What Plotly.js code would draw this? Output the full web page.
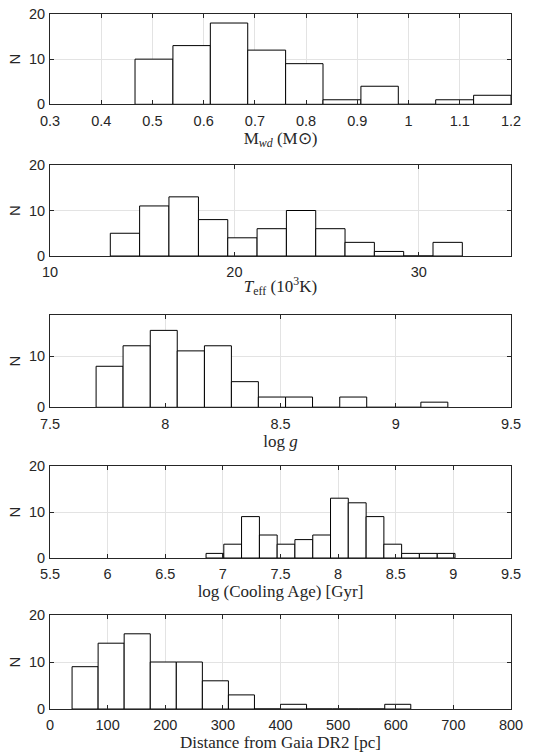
<!DOCTYPE html>
<html>
<head>
<meta charset="utf-8">
<script src="https://cdn.plot.ly/plotly-3.0.1.min.js"></script>
<style>html,body{margin:0;padding:0;background:#fff;}#chart{width:544px;height:754px;}</style>
</head>
<body>
<div id="chart"></div>
<script>
// Panel 1: white dwarf mass
const massEdges = [0.466, 0.540, 0.613, 0.686, 0.760, 0.833, 0.907, 0.980, 1.053, 1.127, 1.200];
const massCounts = [10, 13, 18, 12, 9, 1, 4, 0, 1, 2];
// Panel 2: effective temperature (10^3 K)
const teffEdges = [13.27, 14.86, 16.45, 18.05, 19.64, 21.23, 22.82, 24.41, 26.00, 27.59, 29.18, 30.77, 32.36];
const teffCounts = [5, 11, 13, 8, 4, 6, 10, 6, 3, 1, 0, 3];
// Panel 3: log g
const loggEdges = [7.700, 7.817, 7.935, 8.052, 8.170, 8.287, 8.404, 8.522, 8.639, 8.757, 8.874, 8.991, 9.109, 9.226];
const loggCounts = [8, 12, 15, 11, 12, 5, 2, 2, 0, 2, 0, 0, 1];
// Panel 4: log cooling age
const ageEdges = [6.854, 7.008, 7.162, 7.317, 7.471, 7.625, 7.780, 7.934, 8.088, 8.243, 8.397, 8.551, 8.705, 8.860, 9.014];
const ageCounts = [1, 3, 9, 5, 3, 4, 5, 13, 12, 9, 3, 1, 1, 1];
// Panel 5: Gaia DR2 distance (pc)
const distEdges = [38.3, 83.5, 128.7, 174.0, 219.2, 264.4, 309.6, 354.8, 400.0, 445.2, 490.4, 535.7, 580.9, 626.1];
const distCounts = [9, 14, 16, 10, 10, 6, 3, 0, 1, 0, 0, 0, 1];

const xTitles = [
  'M<sub><i>wd</i></sub> (M\u2299)',
  '<i>T</i><sub>eff</sub> (10<sup>3</sup>K)',
  'log <i>g</i>',
  'log (Cooling Age) [Gyr]',
  'Distance from Gaia DR2 [pc]'
];
const xRanges = [[0.3, 1.2], [10, 35], [7.5, 9.5], [5.5, 9.5], [0, 800]];
const xDticks = [0.1, 10, 0.5, 0.5, 100];
const yRanges = [[0, 20], [0, 20], [0, 18], [0, 20], [0, 20]];
const yTickVals = [[0, 10, 20], [0, 10, 20], [0, 10], [0, 10, 20], [0, 10, 20]];

const panels = [
  [massEdges, massCounts],
  [teffEdges, teffCounts],
  [loggEdges, loggCounts],
  [ageEdges, ageCounts],
  [distEdges, distCounts]
];

const plotTop = 14, plotBottom = 709;
const pxBounds = [[14, 104.3], [165, 256], [315, 407.3], [466, 558], [615, 709]];
const plotH = plotBottom - plotTop;

const sans = 'Liberation Sans, Arial, sans-serif';
const serif = 'Liberation Serif, Times New Roman, serif';
const ink = '#262626';

const traces = [];
const layout = {
  width: 544, height: 754,
  margin: {l: 50, r: 33, t: 14, b: 45},
  paper_bgcolor: '#fff', plot_bgcolor: '#fff',
  showlegend: false,
  bargap: 0,
  font: {family: sans, size: 14.5, color: ink}
};

panels.forEach((p, i) => {
  const edges = p[0], counts = p[1];
  const centers = counts.map((_, k) => (edges[k] + edges[k + 1]) / 2);
  const widths = counts.map((_, k) => edges[k + 1] - edges[k]);
  const n = i === 0 ? '' : String(i + 1);
  traces.push({
    type: 'bar', x: centers, y: counts, width: widths,
    xaxis: 'x' + n, yaxis: 'y' + n,
    marker: {color: '#ffffff', line: {color: '#000000', width: 1}},
    hoverinfo: 'x+y'
  });
  const b = pxBounds[i];
  const dom = [(plotBottom - b[1]) / plotH, (plotBottom - b[0]) / plotH];
  layout['xaxis' + n] = {
    anchor: 'y' + n,
    range: xRanges[i], dtick: xDticks[i], tick0: 0,
    showgrid: true, gridcolor: '#e3e3e3', gridwidth: 1,
    zeroline: false,
    showline: true, linecolor: ink, linewidth: 1, mirror: 'ticks',
    ticks: 'inside', ticklen: 4, tickcolor: ink,
    ticklabelstandoff: 3,
    tickfont: {family: sans, size: 14.5, color: ink},
    title: {text: xTitles[i], standoff: 0,
      font: {family: serif, size: 17, color: ink}}
  };
  layout['yaxis' + n] = {
    anchor: 'x' + n,
    domain: dom,
    range: yRanges[i], tickvals: yTickVals[i],
    showgrid: true, gridcolor: '#e3e3e3', gridwidth: 1,
    zeroline: false,
    showline: true, linecolor: ink, linewidth: 1, mirror: 'ticks',
    ticks: 'inside', ticklen: 4, tickcolor: ink,
    ticklabelstandoff: 1,
    tickfont: {family: sans, size: 14.5, color: ink},
    title: {text: 'N', standoff: 4,
      font: {family: sans, size: 15, color: ink}}
  };
});

Plotly.newPlot('chart', traces, layout, {displayModeBar: false, staticPlot: true});
</script>
</body>
</html>
